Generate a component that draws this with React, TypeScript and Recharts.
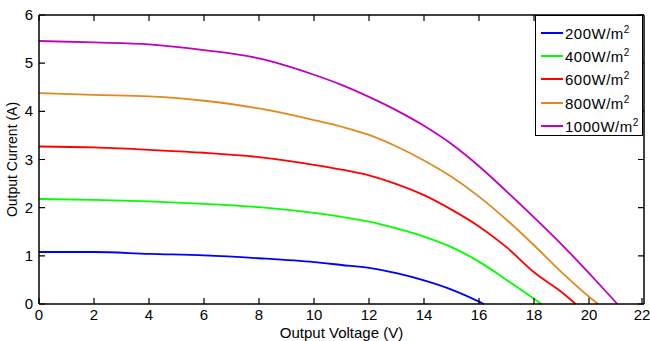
import { LineChart, Line, XAxis, YAxis, ReferenceLine } from "recharts";

const xTicks = [0, 2, 4, 6, 8, 10, 12, 14, 16, 18, 20, 22];
const yTicks = [0, 1, 2, 3, 4, 5, 6];

const voltage200 = [0, 2, 4, 6, 8, 10, 11, 12, 13, 14, 15, 16, 16.18];
const current200 = [1.08, 1.08, 1.04, 1.01, 0.95, 0.87, 0.81, 0.75, 0.64, 0.49, 0.3, 0.05, 0];

const voltage400 = [0, 2, 4, 6, 8, 10, 11, 12, 13, 14, 15, 16, 17, 18, 18.27];
const current400 = [2.18, 2.16, 2.13, 2.08, 2.01, 1.89, 1.81, 1.71, 1.57, 1.4, 1.18, 0.88, 0.5, 0.11, 0];

const voltage600 = [0, 2, 4, 6, 8, 10, 11, 12, 13, 14, 15, 16, 17, 18, 19, 19.52];
const current600 = [3.27, 3.25, 3.2, 3.14, 3.05, 2.89, 2.79, 2.67, 2.49, 2.26, 1.96, 1.61, 1.18, 0.66, 0.25, 0];

const voltage800 = [0, 2, 4, 6, 8, 10, 11, 12, 13, 14, 15, 16, 17, 18, 19, 20, 20.33];
const current800 = [4.38, 4.34, 4.31, 4.22, 4.06, 3.82, 3.68, 3.51, 3.27, 2.98, 2.64, 2.23, 1.75, 1.22, 0.66, 0.15, 0];

const voltage1000 = [0, 2, 4, 6, 8, 10, 11, 12, 13, 14, 15, 16, 17, 18, 19, 20, 20.6, 21.03];
const current1000 = [5.46, 5.43, 5.39, 5.27, 5.1, 4.76, 4.55, 4.3, 4.02, 3.7, 3.32, 2.86, 2.34, 1.8, 1.24, 0.64, 0.27, 0];

const irradiance = ["200", "400", "600", "800", "1000"];
const colors = ["#0000ff", "#00ff00", "#ff0000", "#df8a1f", "#bf00bf"];

const toPoints = (v: number[], i: number[]) => v.map((x, k) => ({ v: x, i: i[k] }));

const series = [
  toPoints(voltage200, current200),
  toPoints(voltage400, current400),
  toPoints(voltage600, current600),
  toPoints(voltage800, current800),
  toPoints(voltage1000, current1000),
];

const font = "'Liberation Sans', Arial, sans-serif";
const ink = "#000";

// plot box size, used to mirror the inward ticks onto the top / right edges
const PLOT_W = 605;
const PLOT_H = 289;
const TICK = 6;

// matlab-like ticks: pointing into the box, on both opposite sides
function XTick(props: any) {
  const { x, y, payload } = props;
  return (
    <g>
      <path d={`M${x},${y}v${-TICK}M${x},${y - PLOT_H}v${TICK}`} stroke={ink} strokeWidth={1.2} fill="none" />
      <text x={x} y={y + 16} textAnchor="middle" fill="#000" fontSize={15} fontFamily={font}>
        {payload.value}
      </text>
    </g>
  );
}

function YTick(props: any) {
  const { x, y, payload } = props;
  return (
    <g>
      <path d={`M${x},${y}h${TICK}M${x + PLOT_W},${y}h${-TICK}`} stroke={ink} strokeWidth={1.2} fill="none" />
      <text x={x - 6} y={y + 5} textAnchor="end" fill="#000" fontSize={15} fontFamily={font}>
        {payload.value}
      </text>
    </g>
  );
}

export default function App() {
  return (
    <div style={{ position: "absolute", left: 0, top: 0, width: 650, height: 341, background: "#fff" }}>
      <LineChart width={650} height={341} margin={{ top: 15, right: 6, left: 0, bottom: 0 }}>
        <XAxis
          xAxisId="main"
          dataKey="v"
          type="number"
          domain={[0, 22]}
          ticks={xTicks}
          height={37}
          stroke={ink}
          strokeWidth={1.5}
          tickLine={false}
          tickSize={0}
          tickMargin={0}
          tick={<XTick />}
          label={{ value: "Output Voltage (V)", position: "insideBottom", offset: 3, fill: "#000", fontSize: 15, fontFamily: font }}
        />
        <YAxis
          yAxisId="main"
          type="number"
          domain={[0, 6]}
          ticks={yTicks}
          width={39}
          stroke={ink}
          strokeWidth={1.5}
          tickLine={false}
          tickSize={0}
          tickMargin={0}
          tick={<YTick />}
          label={{ value: "Output Current (A)", angle: -90, position: "insideLeft", offset: 12, fill: "#000", fontSize: 14, fontFamily: font, style: { textAnchor: "middle" } }}
        />
        <ReferenceLine xAxisId="main" yAxisId="main" y={6} stroke={ink} strokeWidth={1.5} ifOverflow="extendDomain" />
        <ReferenceLine xAxisId="main" yAxisId="main" x={22} stroke={ink} strokeWidth={1.5} ifOverflow="extendDomain" />
        {series.map((pts, k) => (
          <Line
            key={irradiance[k]}
            xAxisId="main"
            yAxisId="main"
            data={pts}
            dataKey="i"
            type="monotone"
            stroke={colors[k]}
            strokeWidth={1.8}
            dot={false}
            isAnimationActive={false}
            name={irradiance[k] + "W/m2"}
          />
        ))}
      </LineChart>
      <div
        style={{
          position: "absolute",
          left: 535,
          top: 15,
          width: 108,
          height: 121,
          border: "1.5px solid #000",
          background: "#fff",
          boxSizing: "border-box",
          fontFamily: font,
          fontSize: 15,
          paddingTop: 5,
        }}
      >
        {irradiance.map((label, k) => (
          <div key={label} style={{ display: "flex", alignItems: "center", height: 23.3 }}>
            <div style={{ width: 22, height: 2, background: colors[k], marginLeft: 5, marginRight: 2 }} />
            <span style={{ letterSpacing: 0.5 }}>
              {label}W/m<sup style={{ fontSize: 10 }}>2</sup>
            </span>
          </div>
        ))}
      </div>
    </div>
  );
}
